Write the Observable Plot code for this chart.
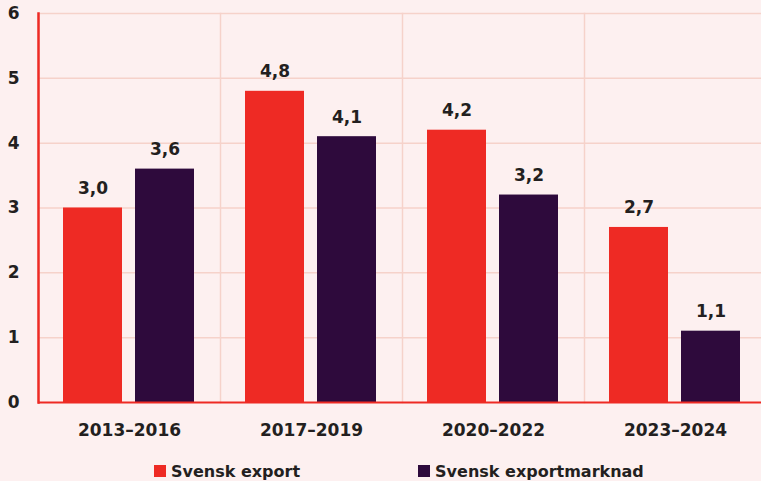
<!DOCTYPE html>
<html>
<head>
<meta charset="utf-8">
<script src="https://cdn.jsdelivr.net/npm/d3@7"></script>
<script src="https://cdn.jsdelivr.net/npm/@observablehq/plot@0.6"></script>
<style>
  html, body { margin: 0; padding: 0; background: #fdf0f0; overflow: hidden; }
  body { width: 761px; height: 481px; font-family: "DejaVu Sans", sans-serif; color: #231f20; }
  #legend { display: flex; justify-content: flex-start; align-items: center; height: 24px; font-weight: bold; font-size: 16px; }
  .item { display: flex; align-items: center; }
  .sw { width: 12px; height: 12px; margin-right: 5px; }
</style>
</head>
<body>
<div id="chart"></div>
<div id="legend"></div>
<script>
const groups = ["2013–2016", "2017–2019", "2020–2022", "2023–2024"];
const seriesNames = ["Svensk export", "Svensk exportmarknad"];
const exportValues = [3.0, 4.8, 4.2, 2.7];
const marketValues = [3.6, 4.1, 3.2, 1.1];
const yTicks = [0, 1, 2, 3, 4, 5, 6];
const colors = ["#ee2a24", "#2e0a3c"];

const data = [];
groups.forEach((g, i) => {
  data.push({group: g, series: seriesNames[0], value: exportValues[i]});
  data.push({group: g, series: seriesNames[1], value: marketValues[i]});
});

const red = "#ee2a24";
const grid = "#f6d2ca";

const chart = Plot.plot({
  width: 761,
  height: 459,
  marginTop: 13,
  marginLeft: 37,
  marginRight: -6,
  marginBottom: 57,
  style: {background: "#fdf0f0", fontFamily: "DejaVu Sans, sans-serif", fontSize: "17px", fontWeight: "bold", color: "#231f20"},
  fx: {domain: groups, padding: 0, label: null},
  x: {domain: seriesNames, paddingInner: 0.178, paddingOuter: 0.342, axis: null},
  y: {domain: [0, 6], label: null},
  color: {domain: seriesNames, range: colors},
  marks: [
    Plot.gridY(yTicks.filter(d => d > 0), {stroke: grid, strokeOpacity: 1, strokeWidth: 1.5}),
    Plot.frame({anchor: "left", stroke: grid, strokeWidth: 1.5}),
    Plot.barY(data, {fx: "group", x: "series", y: "value", fill: "series"}),
    Plot.text(data, {fx: "group", x: "series", y: "value", text: d => d.value.toFixed(1).replace(".", ","), dy: -14, lineAnchor: "bottom", fill: "#231f20", fontSize: 17, fontWeight: "bold"}),
    Plot.ruleY([0], {stroke: red, strokeWidth: 2}),
    Plot.frame({anchor: "left", stroke: red, strokeWidth: 2.5, facetAnchor: "left"}),
    Plot.axisY({ticks: yTicks, tickSize: 0, tickPadding: 19, label: null, tickFormat: d => String(d), fontSize: 17}),
    Plot.axisFx({anchor: "bottom", tickSize: 0, tickPadding: 21, label: null, fontSize: 17})
  ]
});
document.getElementById("chart").appendChild(chart);

const legend = document.getElementById("legend");
seriesNames.forEach((s, i) => {
  const item = document.createElement("div");
  item.className = "item";
  item.style.marginLeft = i === 0 ? "154px" : "118px";
  const sw = document.createElement("div");
  sw.className = "sw";
  sw.style.background = colors[i];
  const label = document.createElement("span");
  label.textContent = s;
  item.appendChild(sw);
  item.appendChild(label);
  legend.appendChild(item);
});
</script>
</body>
</html>
